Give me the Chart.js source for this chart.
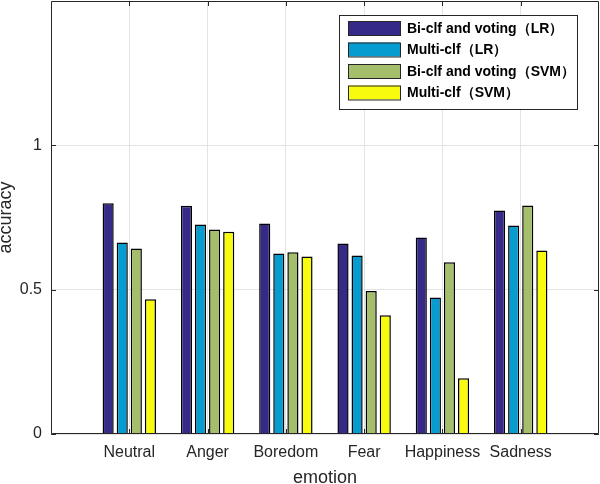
<!DOCTYPE html>
<html>
<head>
<meta charset="utf-8">
<script src="https://cdn.jsdelivr.net/npm/chart.js@4"></script>
<style>
  html, body { margin: 0; padding: 0; background: #fff; }
  #wrap { width: 600px; height: 484px; }
</style>
</head>
<body>
<div id="wrap"><canvas id="chart"></canvas></div>
<script>
const emotions = ['Neutral', 'Anger', 'Boredom', 'Fear', 'Happiness', 'Sadness'];
const seriesNames = ['Bi-clf and voting（LR）', 'Multi-clf（LR）', 'Bi-clf and voting（SVM）', 'Multi-clf（SVM）'];
const biLR = [0.799, 0.791, 0.729, 0.660, 0.681, 0.774];
const multiLR = [0.663, 0.726, 0.625, 0.618, 0.473, 0.722];
const biSVM = [0.643, 0.708, 0.630, 0.495, 0.595, 0.792];
const multiSVM = [0.467, 0.701, 0.615, 0.411, 0.193, 0.636];
const colors = ['#352A87', '#079CCF', '#A5BE6B', '#F9FB0E'];
const yTicks = [0, 0.5, 1];

const ink = '#262626';
const font = '"Liberation Sans", Arial, sans-serif';

// MATLAB-like box, inward ticks and legend inside the axes
const boxPlugin = {
  id: 'box',
  afterDraw(chart) {
    const { ctx, chartArea: a, scales } = chart;
    ctx.save();
    ctx.strokeStyle = ink;
    ctx.lineWidth = 1;
    ctx.beginPath();
    ctx.rect(a.left + 0.5, a.top + 0.5, a.right - a.left - 1, a.bottom - a.top - 1);
    ctx.stroke();
    // inward ticks
    ctx.beginPath();
    for (let i = 1; i <= emotions.length; i++) {
      const x = Math.round(scales.x.getPixelForValue(i)) + 0.5;
      ctx.moveTo(x, a.bottom); ctx.lineTo(x, a.bottom - 5);
      ctx.moveTo(x, a.top); ctx.lineTo(x, a.top + 5);
    }
    yTicks.forEach(v => {
      const y = Math.round(scales.y.getPixelForValue(v)) + 0.5;
      ctx.moveTo(a.left, y); ctx.lineTo(a.left + 5, y);
      ctx.moveTo(a.right, y); ctx.lineTo(a.right - 5, y);
    });
    ctx.stroke();

    // legend
    const lx = 339, ly = 15, lw = 238, lh = 94;
    ctx.fillStyle = '#fff';
    ctx.fillRect(lx, ly, lw, lh);
    ctx.strokeRect(lx + 0.5, ly + 0.5, lw, lh);
    ctx.font = 'bold 14px ' + font;
    ctx.textBaseline = 'middle';
    chart.data.datasets.forEach((ds, i) => {
      const cy = 28 + i * 21.5;
      ctx.fillStyle = ds.backgroundColor;
      ctx.fillRect(348, cy - 7, 52, 14);
      ctx.strokeStyle = ink;
      ctx.strokeRect(348.5, cy - 6.5, 52, 14);
      ctx.fillStyle = '#000';
      ctx.fillText(ds.label, 407, cy + 1);
    });
    ctx.restore();
  }
};

const allSeries = [biLR, multiLR, biSVM, multiSVM];

new Chart(document.getElementById('chart'), {
  type: 'bar',
  data: {
    datasets: allSeries.map((vals, i) => ({
      label: seriesNames[i],
      data: vals.map((v, j) => ({ x: j + 1, y: v })),
      backgroundColor: colors[i],
      borderColor: '#000',
      borderWidth: 1.5,
      categoryPercentage: 0.72,
      barPercentage: 0.79
    }))
  },
  options: {
    responsive: true,
    maintainAspectRatio: false,
    animation: false,
    layout: { padding: { top: 1, right: 1, left: 0, bottom: 0 } },
    plugins: { legend: { display: false }, tooltip: { enabled: false } },
    scales: {
      x: {
        type: 'linear',
        min: 0,
        max: 7,
        offset: false,
        afterFit: s => {
          s.height = 50;
          s.paddingLeft = 0; s.paddingRight = 0; s.paddingTop = 0; s.paddingBottom = 0;
        },
        afterBuildTicks: s => { s.ticks = emotions.map((_, i) => ({ value: i + 1 })); },
        ticks: {
          callback: v => emotions[v - 1] || '',
          color: ink,
          font: { size: 16, family: font },
          padding: 9,
          maxRotation: 0,
          autoSkip: false
        },
        grid: { color: '#e3e3e3', drawTicks: false, offset: false },
        border: { display: false },
        title: {
          display: true,
          text: 'emotion',
          color: ink,
          font: { size: 18, family: font, lineHeight: 1 },
          padding: { top: 0, bottom: -3 }
        }
      },
      y: {
        min: 0,
        max: 1.5,
        afterFit: s => {
          s.width = 51;
          s.paddingLeft = 0; s.paddingRight = 0; s.paddingTop = 0; s.paddingBottom = 0;
        },
        afterBuildTicks: s => { s.ticks = yTicks.map(v => ({ value: v })); },
        ticks: {
          callback: v => String(v),
          color: ink,
          font: { size: 16, family: font },
          padding: 9
        },
        grid: { color: '#e3e3e3', drawTicks: false },
        border: { display: false },
        title: {
          display: true,
          text: 'accuracy',
          color: ink,
          font: { size: 18, family: font, lineHeight: 1 },
          padding: { top: -3, bottom: 0 }
        }
      }
    }
  },
  plugins: [boxPlugin]
});
</script>
</body>
</html>
